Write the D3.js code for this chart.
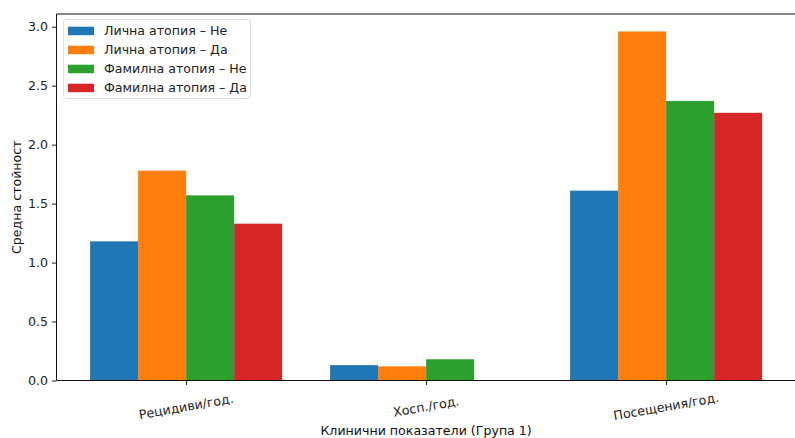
<!DOCTYPE html>
<html>
<head>
<meta charset="utf-8">
<script src="https://cdn.jsdelivr.net/npm/d3@7"></script>
<style>
  html, body { margin: 0; padding: 0; background: #fff; }
  svg { display: block; font-family: "DejaVu Sans", sans-serif; }
</style>
</head>
<body>
<svg id="chart" width="795" height="438"></svg>
<script>
// ---- Data ----
const categories = ["Рецидиви/год.", "Хосп./год.", "Посещения/год."];
const seriesNames = ["Лична атопия – Не", "Лична атопия – Да", "Фамилна атопия – Не", "Фамилна атопия – Да"];
const seriesLichnaNe = [1.18, 0.13, 1.61];
const seriesLichnaDa = [1.78, 0.12, 2.96];
const seriesFamilnaNe = [1.57, 0.18, 2.37];
const seriesFamilnaDa = [1.33, 0.0, 2.27];
const yTicks = [0.0, 0.5, 1.0, 1.5, 2.0, 2.5, 3.0];
const colors = ["#1f77b4", "#ff7f0e", "#2ca02c", "#d62728"];

const allSeries = [seriesLichnaNe, seriesLichnaDa, seriesFamilnaNe, seriesFamilnaDa];

// ---- Layout ----
const FS = 12.6;
const axL = 56.5, axT = 14, axB = 380.5;
const barW = 0.2;
const nS = allSeries.length;
const xMin = -0.4 - 0.14, xMax = 2.4 + 0.14;
const pxPerUnit = 240;
const axR = axL + (xMax - xMin) * pxPerUnit;

const svg = d3.select("#chart");

const x = d3.scaleLinear().domain([xMin, xMax]).range([axL, axR]);
const maxV = d3.max(allSeries.flat());
const y = d3.scaleLinear().domain([0, maxV * 1.05]).range([axB, axT]);

// bars
allSeries.forEach((s, i) => {
  const off = (i - (nS - 1) / 2) * barW;
  svg.append("g").selectAll("rect").data(s).join("rect")
    .attr("x", (d, j) => x(j + off - barW / 2))
    .attr("width", x(barW) - x(0))
    .attr("y", d => y(d))
    .attr("height", d => y(0) - y(d))
    .attr("fill", colors[i]);
});

// y axis
const yAxis = d3.axisLeft(y).tickValues(yTicks).tickFormat(d3.format(".1f")).tickSize(4.5).tickPadding(4);
const gy = svg.append("g").attr("transform", `translate(${axL},0)`).call(yAxis);
gy.select(".domain").remove();
gy.selectAll("text").attr("font-size", FS).attr("font-family", "DejaVu Sans").attr("fill", "#222");
gy.selectAll("line").attr("stroke", "#222");

// x axis
const xAxis = d3.axisBottom(x).tickValues(categories.map((c, i) => i)).tickFormat("").tickSize(4.5);
const gx = svg.append("g").attr("transform", `translate(0,${axB})`).call(xAxis);
gx.select(".domain").remove();
gx.selectAll("line").attr("stroke", "#222");

// rotated x tick labels
svg.append("g").selectAll("text").data(categories).join("text")
  .attr("transform", (d, i) => `translate(${x(i)},${axB + 26}) rotate(-10)`)
  .attr("text-anchor", "middle")
  .attr("dominant-baseline", "central")
  .attr("font-size", FS)
  .attr("fill", "#222")
  .text(d => d);

// spines
svg.append("line").attr("x1", axL).attr("x2", axL).attr("y1", axT).attr("y2", axB).attr("stroke", "#111").attr("stroke-width", 1);
svg.append("line").attr("x1", axL).attr("x2", axR).attr("y1", axB).attr("y2", axB).attr("stroke", "#111").attr("stroke-width", 1);
svg.append("line").attr("x1", axL).attr("x2", axR).attr("y1", axT).attr("y2", axT).attr("stroke", "#111").attr("stroke-width", 1);
svg.append("line").attr("x1", axR).attr("x2", axR).attr("y1", axT).attr("y2", axB).attr("stroke", "#111").attr("stroke-width", 1);

// axis labels
svg.append("text")
  .attr("x", (axL + axR) / 2).attr("y", 430)
  .attr("text-anchor", "middle").attr("dominant-baseline", "central")
  .attr("font-size", FS).attr("fill", "#111")
  .text("Клинични показатели (Група 1)");
svg.append("text")
  .attr("transform", `translate(16,${(axT + axB) / 2}) rotate(-90)`)
  .attr("text-anchor", "middle").attr("dominant-baseline", "central")
  .attr("font-size", FS).attr("fill", "#111")
  .text("Средна стойност");

// legend
const lg = svg.append("g");
lg.append("rect").attr("x", 63.5).attr("y", 19.5).attr("width", 187).attr("height", 79)
  .attr("rx", 3).attr("fill", "#fff").attr("fill-opacity", 0.8).attr("stroke", "#ddd");
seriesNames.forEach((n, i) => {
  const cy = 30.7 + i * 19;
  lg.append("rect").attr("x", 68).attr("y", cy - 4).attr("width", 26).attr("height", 8.5).attr("fill", colors[i]);
  lg.append("text").attr("x", 104).attr("y", cy).attr("dominant-baseline", "central")
    .attr("font-size", FS).attr("fill", "#222").text(n);
});
</script>
</body>
</html>
